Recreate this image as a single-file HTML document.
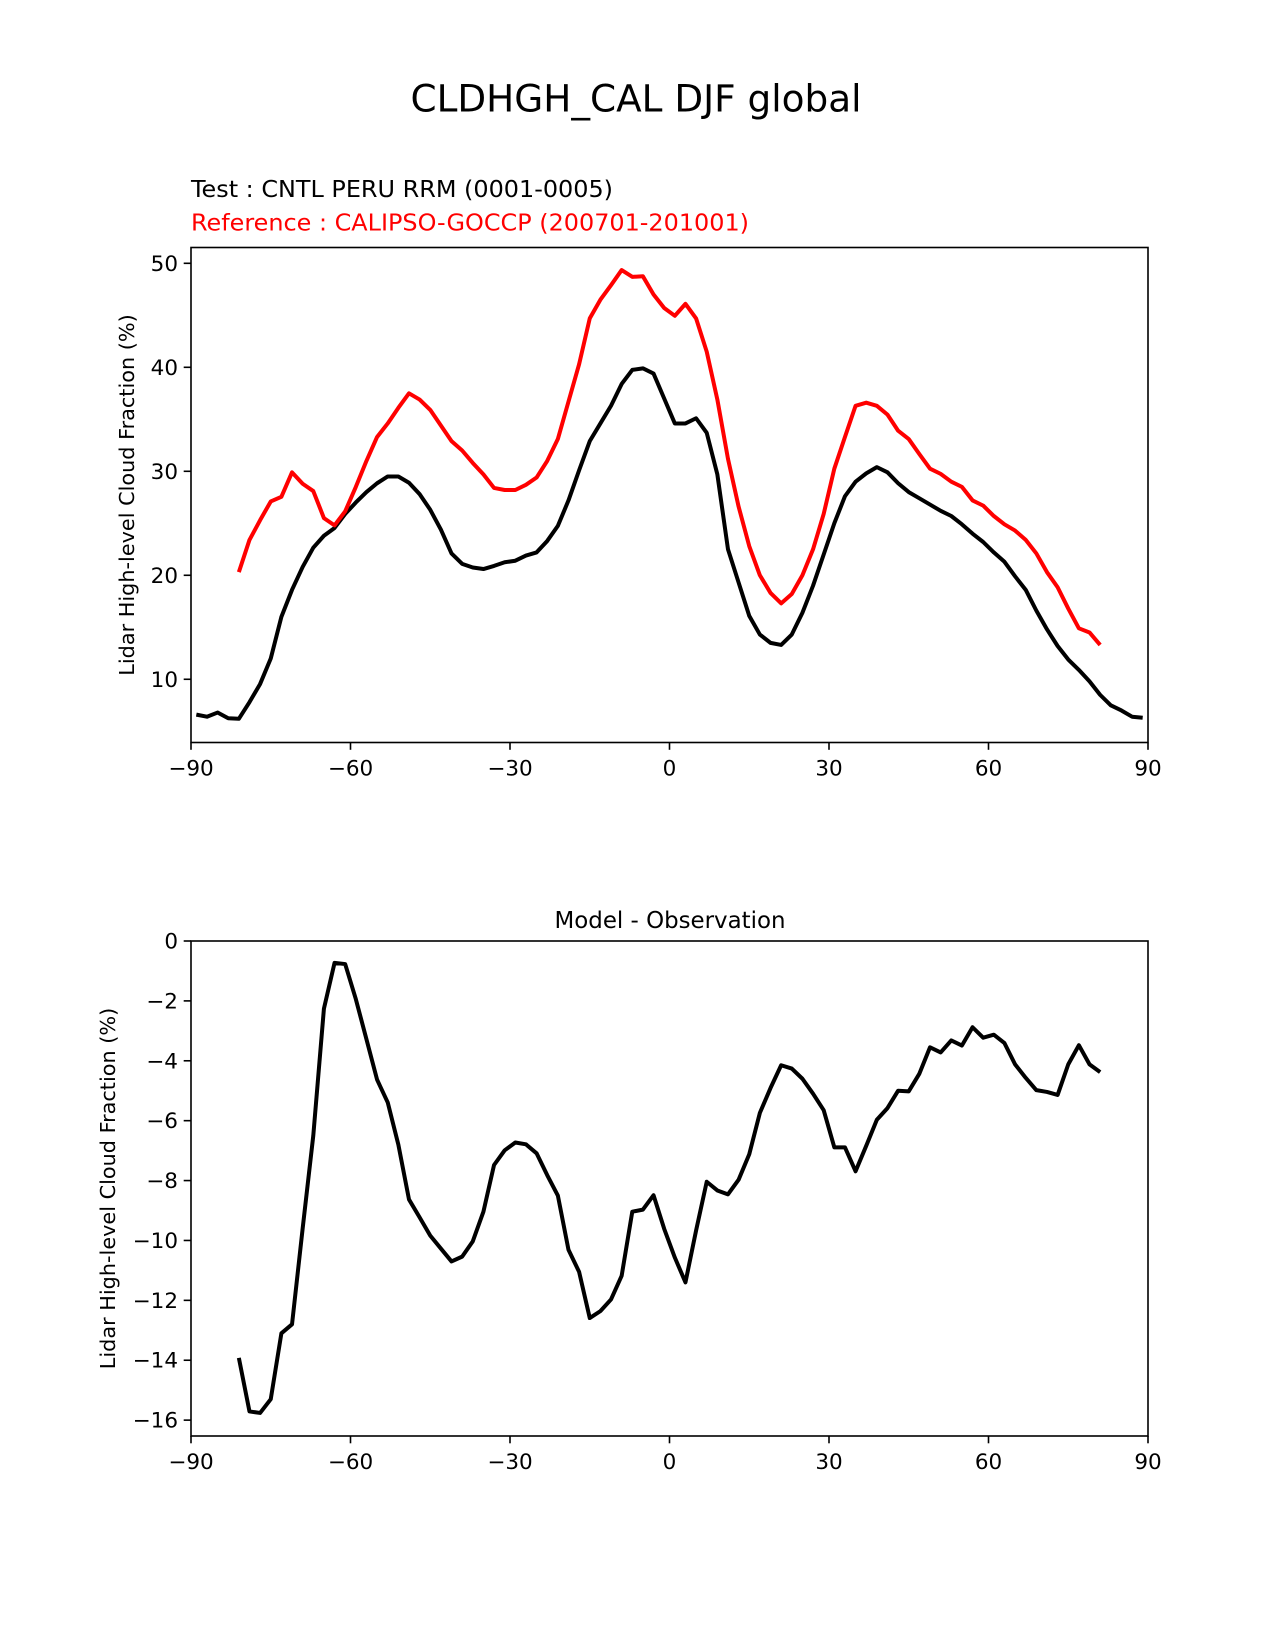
<!DOCTYPE html>
<html><head><meta charset="utf-8"><style>
html,body{margin:0;padding:0;background:#fff;}
svg{display:block;}
text{font-family:"DejaVu Sans","Liberation Sans",sans-serif;}
</style></head><body>
<svg id="fig" width="1275" height="1650" viewBox="0 0 1275 1650" xmlns="http://www.w3.org/2000/svg">
<rect width="1275" height="1650" fill="#fff"/>
<text x="636" y="111.5" font-size="37.5" text-anchor="middle" textLength="451" lengthAdjust="spacingAndGlyphs">CLDHGH_CAL DJF global</text>
<text x="191" y="197" font-size="22.9" textLength="422" lengthAdjust="spacingAndGlyphs">Test : CNTL PERU RRM (0001-0005)</text>
<text x="191" y="230.5" font-size="22.9" fill="#ff0000" textLength="558" lengthAdjust="spacingAndGlyphs">Reference : CALIPSO-GOCCP (200701-201001)</text>
<text x="670" y="928" font-size="22.9" text-anchor="middle">Model - Observation</text>
<g id="top"></g>
<g id="bot"></g>
</svg>
<script>
const latModel = [];
for (let v = -89; v <= 89; v += 2) latModel.push(v);
const latObs = [];
for (let v = -81; v <= 81; v += 2) latObs.push(v);
const modelVals = [6.6,6.4,6.8,6.25,6.2,7.8,9.55,12.0,16.0,18.6,20.8,22.65,23.8,24.55,25.9,27.0,28.0,28.85,29.5,29.5,28.9,27.8,26.3,24.4,22.1,21.1,20.75,20.6,20.9,21.25,21.4,21.9,22.2,23.3,24.75,27.2,30.1,32.9,34.6,36.3,38.4,39.75,39.9,39.4,37.0,34.6,34.6,35.1,33.7,29.7,22.5,19.3,16.1,14.3,13.5,13.3,14.3,16.4,19.0,22.0,25.0,27.6,29.0,29.8,30.4,29.9,28.85,28.0,27.4,26.8,26.2,25.7,24.9,24.0,23.2,22.2,21.3,19.9,18.6,16.6,14.8,13.2,11.9,10.9,9.8,8.5,7.5,7.0,6.4,6.3];
const obsVals = [20.3,23.4,25.3,27.1,27.55,29.9,28.8,28.1,25.5,24.8,26.15,28.5,31.0,33.3,34.6,36.1,37.5,36.9,35.9,34.4,32.9,32.0,30.8,29.7,28.4,28.2,28.2,28.7,29.4,31.0,33.1,36.7,40.3,44.7,46.5,47.9,49.35,48.7,48.75,47.0,45.7,44.95,46.1,44.7,41.5,36.9,31.2,26.6,22.8,20.0,18.3,17.3,18.2,20.0,22.5,25.9,30.25,33.3,36.3,36.6,36.3,35.45,33.9,33.1,31.65,30.25,29.75,29.0,28.5,27.2,26.7,25.7,24.9,24.3,23.4,22.1,20.3,18.85,16.8,14.9,14.5,13.3];
const diffVals = [-13.92,-15.71,-15.76,-15.3,-13.1,-12.8,-9.6,-6.5,-2.26,-0.73,-0.77,-1.94,-3.28,-4.63,-5.39,-6.8,-8.63,-9.23,-9.84,-10.27,-10.7,-10.54,-10.03,-9.04,-7.48,-6.99,-6.73,-6.79,-7.09,-7.82,-8.5,-10.31,-11.05,-12.59,-12.36,-11.97,-11.18,-9.04,-8.97,-8.49,-9.61,-10.57,-11.4,-9.67,-8.04,-8.33,-8.46,-7.97,-7.12,-5.74,-4.91,-4.15,-4.26,-4.6,-5.1,-5.65,-6.89,-6.89,-7.69,-6.84,-5.97,-5.58,-5.0,-5.02,-4.43,-3.55,-3.72,-3.32,-3.49,-2.88,-3.23,-3.13,-3.41,-4.12,-4.57,-4.98,-5.04,-5.14,-4.12,-3.48,-4.12,-4.38];
const xTicks = [-90,-60,-30,0,30,60,90];
const xTickLabels = ["\u221290","\u221260","\u221230","0","30","60","90"];
const topYTicks = [10,20,30,40,50];
const botYTicks = [0,-2,-4,-6,-8,-10,-12,-14,-16];
const yLabelText = "Lidar High-level Cloud Fraction (%)";

const NS = "http://www.w3.org/2000/svg";
function mk(parent, tag, attrs, text) {
  const e = document.createElementNS(NS, tag);
  for (const k in attrs) e.setAttribute(k, attrs[k]);
  if (text !== undefined) e.textContent = text;
  parent.appendChild(e);
  return e;
}
function panel(g, box, ymin, ymax, yTicks, ylabX, series) {
  const L = 191, R = 1148;
  const sx = v => L + (v + 90) / 180 * (R - L);
  const sy = v => box.b - (v - ymin) / (ymax - ymin) * (box.b - box.t);
  series.forEach(s => {
    const d = s.x.map((xv, i) => (i ? "L" : "M") + sx(xv).toFixed(2) + " " + sy(s.y[i]).toFixed(2)).join(" ");
    const p = mk(g, "path", {d: d, fill: "none", stroke: s.color, "stroke-width": 4, "stroke-linejoin": "round"});
    
    
  });
  const fr = mk(g, "rect", {x: L, y: box.t, width: R - L, height: box.b - box.t, fill: "none", stroke: "#000", "stroke-width": 1.6});
  
  
  xTicks.forEach((t, i) => {
    const x = sx(t);
    const tk = mk(g, "line", {x1: x, x2: x, y1: box.b, y2: box.b + 7.3, stroke: "#000", "stroke-width": 1.6});
    
    
    const lb = mk(g, "text", {x: x, y: box.b + 33, "font-size": 21.5, "text-anchor": "middle"}, xTickLabels[i]);
    
    
  });
  yTicks.forEach(t => {
    const y = sy(t);
    const tk = mk(g, "line", {x1: L - 7.3, x2: L, y1: y, y2: y, stroke: "#000", "stroke-width": 1.6});
    
    
    const lb = mk(g, "text", {x: L - 13, y: y + 7.5, "font-size": 21.5, "text-anchor": "end"}, String(t).replace("-", "\u2212"));
    
    
  });
  const cy = (box.t + box.b) / 2;
  const yl = mk(g, "text", {x: ylabX, y: cy, "font-size": 20.8, "text-anchor": "middle", transform: "rotate(-90 " + ylabX + " " + cy + ")"}, yLabelText);
  
  
}
panel(document.getElementById("top"), {t: 247.5, b: 742.5}, 3.92, 51.52, topYTicks, 134,
  [{x: latModel, y: modelVals, color: "#000", name: "model-line"},
   {x: latObs, y: obsVals, color: "#ff0000", name: "observation-line"}]);
panel(document.getElementById("bot"), {t: 941, b: 1436}, -16.53, 0, botYTicks, 115,
  [{x: latObs, y: diffVals, color: "#000", name: "difference-line"}]);
</script>
</body></html>
